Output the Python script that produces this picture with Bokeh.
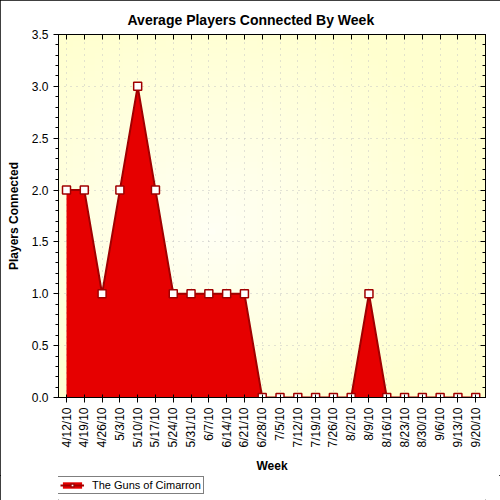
import numpy as np
from bokeh.plotting import figure
from bokeh.layouts import column
from bokeh.models import (LinearAxis, FixedTicker, Range1d, Legend, LegendItem,
                          ColumnDataSource)
from bokeh.embed import file_html
from bokeh.resources import INLINE

# Weekly average of connected players
weeks = ["4/12/10", "4/19/10", "4/26/10", "5/3/10", "5/10/10", "5/17/10",
         "5/24/10", "5/31/10", "6/7/10", "6/14/10", "6/21/10", "6/28/10",
         "7/5/10", "7/12/10", "7/19/10", "7/26/10", "8/2/10", "8/9/10",
         "8/16/10", "8/23/10", "8/30/10", "9/6/10", "9/13/10", "9/20/10"]
players = [2, 2, 1, 2, 3, 2, 1, 1, 1, 1, 1, 0,
           0, 0, 0, 0, 0, 1, 0, 0, 0, 0, 0, 0]
y_ticks = [0.0, 0.5, 1.0, 1.5, 2.0, 2.5, 3.0, 3.5]
series_name = "The Guns of Cimarron"

xs = list(range(len(weeks)))
src = ColumnDataSource(dict(x=xs, y=players, base=[0] * len(xs)))

FONT = "Liberation Sans"
FILL, EDGE = "#E60000", "#A00000"
x0, x1 = -0.45, len(weeks) - 1 + 0.55
y0, y1 = 0.0, 3.5

chart = figure(width=500, height=475, output_backend="svg", toolbar_location=None,
               x_range=Range1d(x0, x1), y_range=Range1d(y0, y1),
               min_border_left=58, min_border_right=15, min_border_top=34,
               min_border_bottom=77)
chart.background_fill_color = "#FFFFE8"
chart.border_fill_color = "white"
chart.outline_line_color = "black"

# soft yellow gradient inside the plotting frame
h, w = 60, 60
gy, gx = np.mgrid[0:h, 0:w]
d = np.clip(np.hypot((gx - w * 0.35) / w, (gy - h * 0.45) / h) * 1.6, 0, 1)
r = np.full((h, w), 255, dtype=np.uint32)
g = np.full((h, w), 255, dtype=np.uint32)
b = (245 - 38 * d).astype(np.uint32)
img = (np.uint32(255) << 24) | (b << 16) | (g << 8) | r
chart.image_rgba(image=[img], x=x0, y=y0, dw=x1 - x0, dh=y1 - y0, level="image")

# title
chart.title.text = "Average Players Connected By Week"
chart.title.text_font = FONT
chart.title.text_font_size = "14px"
chart.title.text_font_style = "bold"
chart.title.text_color = "black"
chart.title.align = "left"
chart.title.offset = 69
chart.title.standoff = 14

# grids
for gr in (chart.xgrid, chart.ygrid):
    gr.grid_line_color = "#C4C4C4"
    gr.grid_line_dash = "1 5"
    gr.grid_line_width = 1
chart.xgrid.ticker = FixedTicker(ticks=xs)
chart.ygrid.ticker = FixedTicker(ticks=y_ticks)

minor_y = [round(v, 1) for v in np.arange(0, 3.51, 0.1)]

# bottom axis
xa = chart.xaxis[0]
xa.ticker = FixedTicker(ticks=xs)
xa.major_label_overrides = {i: wk for i, wk in enumerate(weeks)}
xa.major_label_orientation = np.pi / 2
xa.major_label_text_font = FONT
xa.major_label_text_font_size = "12px"
xa.major_label_text_color = "black"
xa.major_label_standoff = 5
xa.major_tick_in = 3
xa.major_tick_out = 5
xa.minor_tick_line_color = None
xa.axis_label = "Week"
xa.axis_label_text_font = FONT
xa.axis_label_text_font_size = "12px"
xa.axis_label_text_font_style = "bold"
xa.axis_label_text_color = "black"
xa.axis_label_standoff = 8

# left axis
ya = chart.yaxis[0]
ya.ticker = FixedTicker(ticks=y_ticks, minor_ticks=minor_y)
ya.major_label_overrides = {t: f"{t:.1f}" for t in y_ticks}
ya.major_label_text_font = FONT
ya.major_label_text_font_size = "12px"
ya.major_label_text_color = "black"
ya.major_tick_in = 0
ya.major_tick_out = 5
ya.minor_tick_in = 0
ya.minor_tick_out = 3
ya.axis_label = "Players Connected"
ya.axis_label_text_font = FONT
ya.axis_label_text_font_size = "12px"
ya.axis_label_text_font_style = "bold"
ya.axis_label_text_color = "black"
ya.axis_label_standoff = 8

# right axis: inward ticks only
ra = LinearAxis(ticker=FixedTicker(ticks=y_ticks, minor_ticks=minor_y),
                major_label_text_color=None, major_tick_in=5,
                major_tick_out=0, minor_tick_in=3, minor_tick_out=0)
chart.add_layout(ra, "right")

# top axis: inward ticks only
ta = LinearAxis(ticker=FixedTicker(ticks=xs), major_label_text_color=None,
                major_tick_in=5, major_tick_out=0, minor_tick_line_color=None)
chart.add_layout(ta, "above")

# the series: filled area, outline and markers
chart.varea(x="x", y1="base", y2="y", source=src, fill_color=FILL)
chart.line(x="x", y="y", source=src, line_color=EDGE, line_width=2)
chart.scatter(x="x", y="y", source=src, marker="square", size=8,
              fill_color="white", line_color=EDGE, line_width=1.5)

# legend strip under the chart, using the same series styling;
# its glyphs sit outside the strip's visible range so only the key shows
key = figure(width=500, height=25, output_backend="svg", toolbar_location=None,
             x_range=Range1d(0, 1), y_range=Range1d(0, 1),
             x_axis_type=None, y_axis_type=None, min_border=0)
key.outline_line_color = None
key.grid.visible = False
key.background_fill_color = "white"
key.border_fill_color = "white"
off = ColumnDataSource(dict(x=[5, 6], y=[5, 5], base=[4, 4]))
k_box = key.quad(left="x", right="x", bottom="base", top="y", source=off,
                 fill_color=FILL, line_color=None)
k_line = key.line(x="x", y="y", source=off, line_color=EDGE, line_width=2)
k_pts = key.scatter(x="x", y="y", source=off, marker="square", size=8,
                    fill_color="white", line_color=EDGE, line_width=1.5)
legend = Legend(items=[LegendItem(label=series_name,
                                  renderers=[k_box, k_line, k_pts])],
                location=(-1, 6), orientation="horizontal", margin=0,
                padding=2, spacing=0, label_standoff=8, glyph_width=24,
                glyph_height=8, label_height=10,
                label_text_font=FONT, label_text_font_size="11px",
                label_text_color="black",
                border_line_color="black", border_line_width=1,
                background_fill_alpha=1)
key.add_layout(legend, "center")

p = column(chart, key, spacing=0,
           styles={"outline": "1px solid black", "outline-offset": "-1px"})

open("out.html", "w").write(file_html(p, INLINE))
